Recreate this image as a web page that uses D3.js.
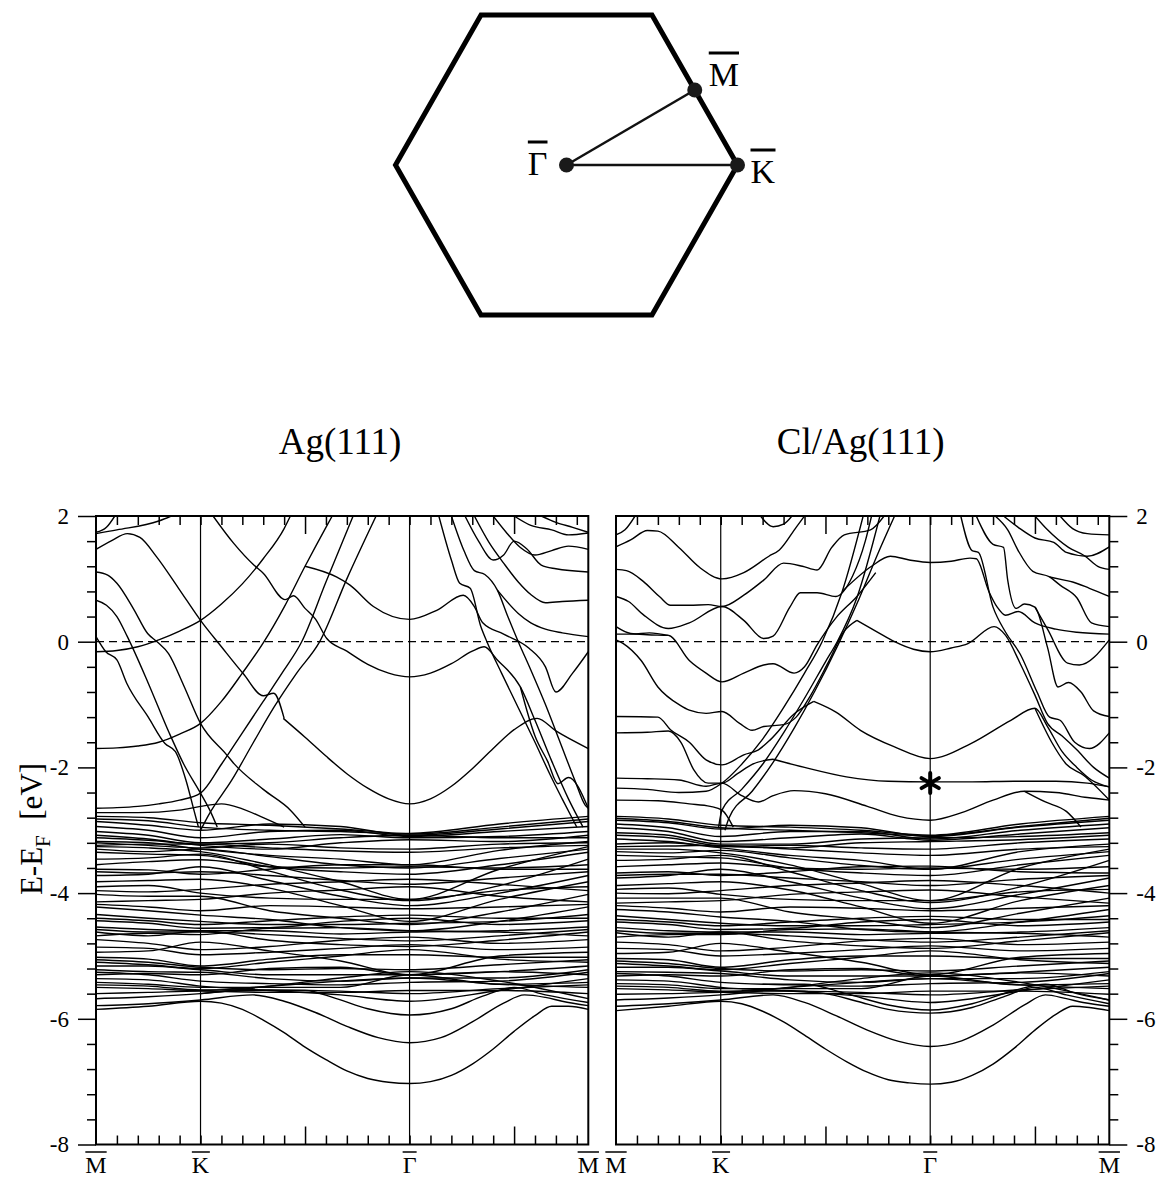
<!DOCTYPE html>
<html>
<head>
<meta charset="utf-8">
<script src="https://cdn.jsdelivr.net/npm/d3@7"></script>
<style>
  body { margin: 0; background: #fff; }
  svg { display: block; }
  text { font-family: "Liberation Serif", "Times New Roman", serif; fill: #000; }
</style>
</head>
<body>
<svg id="chart"></svg>
<script>
const width = 1162, height = 1179;

const kPoints = [0, 5, 15, 23.55];
const kNames = ["M", "K", "\u0393", "M"];
const kMinor = d3.range(1, 24);
const kMajor = [10, 20];
const eMajor = [2, 0, -2, -4, -6, -8];
const eMinor = [1.6, 1.2, 0.8, 0.4, -0.4, -0.8, -1.2, -1.6, -2.4, -2.8, -3.2, -3.6,
                -4.4, -4.8, -5.2, -5.6, -6.4, -6.8, -7.2, -7.6];
const titles = ["Ag(111)", "Cl/Ag(111)"];

// surface Brillouin zone (unit hexagon) and the high-symmetry points
const bzCorners = [[1, 0], [0.5, 0.866], [-0.5, 0.866], [-1, 0], [-0.5, -0.866], [0.5, -0.866]];
const bzPoints = [[0, 0], [0.75, 0.433], [1, 0]];
const bzNames = ["\u0393", "M", "K"];

// d-band manifold sampled on a common k grid
const denseK = [0, 2.5, 5, 8.3, 11.7, 15, 19.3, 23.55];

// ---------- Ag(111) ----------
const agUpper = [
  [[0,1.72],[1,1.78],[3,1.92],[3.6,2.0]],
  [[0,1.74],[0.5,1.82],[0.9,2.0]],
  [[0,1.47],[0.75,1.61],[1.5,1.72],[2.1,1.66],[2.9,1.35],[3.95,0.85],[5,0.34],[6,-0.08],[7.05,-0.51],[8,-0.86],[8.5,-0.82],[9,-1.22]],
  [[0,1.11],[0.56,1.06],[1,0.93],[1.8,0.52],[2.47,0.13],[2.92,0],[3.47,-0.19],[4.2,-0.7],[5,-1.3],[6.25,-1.8],[6.6,-1.94],[8,-2.35],[9.3,-2.68],[10,-2.95]],
  [[0,0.66],[0.5,0.58],[1,0.4],[1.5,0.08],[2.5,-0.66],[3.5,-1.45],[4.2,-1.95],[5,-2.41],[5.5,-2.72],[5.8,-2.95]],
  [[0,0.08],[0.47,-0.16],[1,-0.29],[1.47,-0.66],[2.5,-1.2],[3.3,-1.62],[3.8,-1.75],[4.3,-2.2],[4.7,-2.7],[4.9,-2.95]],
  [[0,-0.16],[1,-0.14],[2,-0.08],[3,0.03],[4,0.17],[5,0.34],[6,0.6],[7,0.92],[8,1.32],[9,1.8],[9.3,2.0]],
  [[0,-1.7],[1,-1.69],[2,-1.66],[3,-1.6],[4,-1.47],[5,-1.3],[6,-0.95],[7,-0.5],[8,-0.02],[9,0.55],[10,1.2],[11,1.82],[11.3,2.0]],
  [[0,-2.65],[1,-2.64],[2,-2.62],[3,-2.58],[4,-2.52],[5,-2.41],[6,-1.95],[7,-1.45],[8,-0.95],[9,-0.45],[9.84,0],[11,0.95],[12.3,2.0]],
  [[5,-3.0],[5.4,-2.75],[6.5,-2.2],[7.5,-1.62],[8.5,-1.05],[9.6,-0.5],[10.7,0],[12,1.0],[13.4,2.0]],
  [[5.6,2.0],[6.6,1.56],[7.55,1.22],[8,1.09],[9.05,0.67],[9.45,0.73],[10,0.53],[10.5,0.36],[11.04,0.05],[12,-0.15],[13,-0.36],[14,-0.5],[15,-0.56],[16,-0.5],[17,-0.35],[18,-0.15],[18.57,-0.08],[19.2,-0.29],[20.3,-0.72],[21,-1.25],[21.8,-1.9],[22.6,-2.5],[23.3,-2.95]],
  [[10,1.2],[11.5,1.03],[12.15,0.9],[13.27,0.56],[15,0.355],[16.3,0.5],[17.57,0.74],[18.1,0.56],[18.5,0.3],[19.5,0.12],[20.7,-0.1],[21.5,-0.4],[22,-0.8],[22.8,-0.5],[23.55,-0.16]],
  [[8.96,-1.22],[10,-1.52],[11,-1.82],[12,-2.1],[13,-2.33],[14,-2.5],[15,-2.58],[16,-2.5],[17,-2.3],[18,-2.02],[19,-1.7],[20,-1.4],[21.1,-1.22],[22,-1.42],[23.55,-1.7]],
  [[16.4,2.0],[17,1.3],[17.4,0.93],[17.9,0.85],[18.4,0.25],[18.7,0],[19.4,-0.5],[20.2,-1.05],[21,-1.6],[21.7,-2.1],[22.3,-2.5],[23,-2.95]],
  [[17,2.0],[17.6,1.45],[18.1,1.13],[18.6,1.07],[19.2,0.82],[19.7,0.4],[20.2,0],[20.8,-0.45],[21.5,-1.0],[22.2,-1.6],[22.9,-2.2],[23.4,-2.6],[23.55,-2.65]],
  [[17.65,2.0],[18.3,1.6],[19,1.3],[19.5,1.38],[20,1.6],[20.6,1.48],[21.3,1.22],[22,1.16],[23.55,1.11]],
  [[18.1,2.0],[18.8,1.58],[19.5,1.25],[20.2,0.95],[20.8,0.75],[21.5,0.62],[22.3,0.64],[23.55,0.66]],
  [[19,2.0],[19.6,1.75],[20.3,1.5],[21,1.38],[21.8,1.45],[22.6,1.52],[23.55,1.47]],
  [[20,2.0],[20.8,1.85],[21.8,1.78],[22.6,1.7],[23.55,1.73]],
  [[21.3,2.0],[22,1.9],[22.8,1.82],[23.55,1.74]],
  [[19.2,0.82],[20.2,0.45],[20.8,0.3],[21.5,0.2],[22.3,0.14],[23.55,0.08]],
  [[20.3,-0.72],[21,-1.5],[21.6,-1.9],[22.1,-2.26],[22.6,-2.16],[23.55,-2.65]],
  [[0,-2.72],[2,-2.72],[4,-2.68],[5,-2.62],[6,-2.58],[7,-2.66],[8,-2.8],[9,-2.95]]
];

const agDense = [
  [-2.78,-2.80,-2.88,-2.92,-2.98,-3.05,-2.90,-2.78],
  [-2.82,-2.85,-2.95,-3.00,-3.02,-3.06,-2.95,-2.82],
  [-2.86,-2.92,-3.00,-2.90,-2.94,-3.08,-2.98,-2.86],
  [-2.94,-3.00,-3.12,-3.02,-3.00,-3.10,-3.02,-2.94],
  [-3.02,-3.08,-3.20,-3.14,-3.07,-3.12,-3.10,-3.02],
  [-3.08,-3.14,-3.24,-3.30,-3.20,-3.15,-3.18,-3.08],
  [-3.12,-3.16,-3.22,-3.20,-3.12,-3.08,-3.12,-3.12],
  [-3.18,-3.20,-3.30,-3.40,-3.46,-3.55,-3.32,-3.18],
  [-3.20,-3.24,-3.28,-3.22,-3.28,-3.30,-3.22,-3.20],
  [-3.24,-3.22,-3.22,-3.28,-3.33,-3.35,-3.28,-3.24],
  [-3.26,-3.28,-3.34,-3.55,-3.82,-4.10,-3.62,-3.26],
  [-3.30,-3.34,-3.30,-3.42,-3.55,-3.60,-3.45,-3.30],
  [-3.35,-3.38,-3.40,-3.58,-3.66,-3.70,-3.55,-3.35],
  [-3.46,-3.44,-3.38,-3.65,-3.95,-4.12,-3.88,-3.46],
  [-3.55,-3.50,-3.47,-3.58,-3.60,-3.58,-3.60,-3.55],
  [-3.62,-3.63,-3.70,-3.62,-3.55,-3.55,-3.62,-3.62],
  [-3.66,-3.68,-3.66,-3.72,-3.80,-3.86,-3.76,-3.66],
  [-3.72,-3.70,-3.58,-3.80,-4.05,-4.20,-4.00,-3.72],
  [-3.82,-3.80,-3.78,-3.92,-4.20,-4.45,-4.10,-3.82],
  [-3.90,-3.88,-4.00,-4.08,-4.10,-4.10,-3.96,-3.90],
  [-3.96,-3.98,-3.94,-3.86,-3.82,-3.78,-3.86,-3.96],
  [-4.02,-4.05,-4.05,-4.28,-4.40,-4.50,-4.30,-4.02],
  [-4.14,-4.12,-4.10,-4.00,-3.95,-3.90,-4.05,-4.14],
  [-4.18,-4.22,-4.28,-4.20,-4.22,-4.25,-4.22,-4.18],
  [-4.22,-4.28,-4.35,-4.42,-4.55,-4.60,-4.45,-4.22],
  [-4.34,-4.40,-4.45,-4.50,-4.50,-4.48,-4.45,-4.34],
  [-4.40,-4.44,-4.50,-4.44,-4.38,-4.35,-4.40,-4.40],
  [-4.44,-4.48,-4.56,-4.55,-4.45,-4.40,-4.50,-4.44],
  [-4.54,-4.58,-4.60,-4.60,-4.65,-4.62,-4.60,-4.54],
  [-4.58,-4.62,-4.62,-4.66,-4.72,-4.76,-4.68,-4.58],
  [-4.62,-4.68,-4.60,-4.75,-4.82,-4.85,-4.75,-4.62],
  [-4.68,-4.64,-4.66,-4.56,-4.55,-4.60,-4.62,-4.68],
  [-4.74,-4.80,-4.90,-4.85,-4.75,-4.70,-4.80,-4.74],
  [-4.86,-4.88,-4.98,-4.94,-4.88,-4.82,-4.90,-4.86],
  [-4.94,-4.92,-4.78,-4.92,-5.08,-5.30,-5.00,-4.94],
  [-5.02,-5.05,-5.16,-5.05,-4.98,-4.98,-5.02,-5.02],
  [-5.06,-5.10,-5.18,-5.22,-5.20,-5.22,-5.14,-5.06],
  [-5.10,-5.14,-5.20,-5.10,-5.00,-4.90,-5.05,-5.10],
  [-5.16,-5.16,-5.22,-5.30,-5.30,-5.30,-5.25,-5.16],
  [-5.22,-5.25,-5.26,-5.36,-5.40,-5.35,-5.35,-5.22],
  [-5.26,-5.30,-5.40,-5.44,-5.46,-5.42,-5.40,-5.26],
  [-5.30,-5.28,-5.30,-5.20,-5.18,-5.30,-5.25,-5.30],
  [-5.36,-5.38,-5.48,-5.55,-5.62,-5.72,-5.55,-5.36],
  [-5.42,-5.45,-5.50,-5.50,-5.50,-5.30,-5.45,-5.42],
  [-5.46,-5.48,-5.54,-5.54,-5.56,-5.60,-5.52,-5.46],
  [-5.50,-5.52,-5.55,-5.48,-5.40,-5.35,-5.45,-5.50],
  [-5.60,-5.58,-5.56,-5.58,-5.58,-5.55,-5.55,-5.60],
  [-5.68,-5.65,-5.60,-5.48,-5.35,-5.25,-5.40,-5.68]
];

const agLower = [
  [[0,-5.85],[2.5,-5.8],[5,-5.72],[6,-5.75],[7,-5.85],[8,-6.02],[9,-6.22],[10,-6.45],[11,-6.65],[12,-6.83],[13,-6.95],[14,-7.01],[15,-7.03],[16,-7.0],[17,-6.9],[18,-6.72],[19,-6.48],[20,-6.2],[21,-5.95],[21.8,-5.8],[22.6,-5.8],[23.55,-5.85]],
  [[0,-5.79],[2.5,-5.76],[5,-5.7],[7.5,-5.62],[9,-5.72],[10.5,-5.9],[12,-6.12],[13.5,-6.3],[15,-6.38],[16.5,-6.3],[18,-6.05],[19.5,-5.75],[20.5,-5.62],[21.5,-5.66],[22.3,-5.72],[23.55,-5.79]],
  [[5,-5.6],[7,-5.55],[10,-5.55],[11.5,-5.68],[13,-5.84],[15,-5.94],[17,-5.84],[18.5,-5.64],[20,-5.5],[21.5,-5.62],[23.55,-5.74]]
];

// ---------- Cl/Ag(111) ----------
const clUpper = [
  [[0,1.7],[0.43,1.78],[0.91,2.0]],
  [[0,1.51],[0.7,1.62],[1.5,1.77],[2,1.76],[3,1.5],[4,1.18],[5.06,1.0],[6.1,1.1],[7.3,1.36],[7.8,1.46],[8.6,1.82],[9,2.0]],
  [[6.9,2.0],[7.5,1.83],[8,1.87],[8.4,2.0]],
  [[0,1.15],[0.5,1.13],[1.3,0.96],[2.1,0.71],[2.6,0.58],[3.5,0.58],[4.4,0.59],[5.06,0.56],[6.1,0.74],[7.05,0.98],[8,1.25],[8.9,1.2],[9.6,1.14],[10.3,1.5],[10.9,1.7],[12.15,1.78],[12.8,2.0]],
  [[0,0.72],[0.6,0.64],[1.3,0.43],[2.5,0.21],[3.5,0.3],[5.06,0.56],[6.1,0.34],[7.05,0.05],[7.5,0.09],[8.3,0.55],[8.8,0.78],[9.6,0.78],[10.5,0.72],[11.3,1.05],[11.9,1.6],[12.2,2.0]],
  [[0,0.24],[0.7,0.13],[1.5,0.11],[2.5,0.1],[3.5,-0.3],[4.3,-0.5],[5.06,-0.64],[6.1,-0.5],[7.05,-0.37],[7.5,-0.35],[8.5,-0.5],[9,-0.4],[9.6,-0.05],[10.5,0.38],[11.5,0.72],[12.4,1.1]],
  [[0,0.12],[0.8,0.12],[1.6,0.14],[2.5,0.1]],
  [[0,0.03],[0.35,-0.03],[1.2,-0.3],[2,-0.72],[3.05,-1.01],[3.5,-1.09],[4.3,-1.14],[5.06,-1.11],[5.9,-1.3],[6.5,-1.41],[7.05,-1.35],[8,-1.32],[8.6,-1.2],[9.3,-0.85],[10.1,-0.35],[10.9,0.17],[11.5,0.34]],
  [[0,-1.19],[2,-1.2],[2.6,-1.4],[3.5,-1.6],[4.3,-1.88],[5.06,-1.96],[6.1,-1.8],[6.8,-1.72],[7.4,-1.55],[8.5,-1.15],[9.44,-0.95]],
  [[0,-1.45],[1.5,-1.44],[2.5,-1.42],[3.1,-1.6],[3.7,-2.03],[4.4,-2.25],[5.06,-2.25],[5.8,-2.1],[6.5,-1.95],[7.5,-1.87]],
  [[7.5,-1.87],[9,-2.0],[11,-2.15],[13,-2.22],[15,-2.23],[17,-2.23],[19,-2.22],[21,-2.22],[22.5,-2.25],[23.55,-2.31]],
  [[0,-2.17],[1.5,-2.18],[3,-2.2],[4.3,-2.3],[5.06,-2.25],[6,-2.45],[6.8,-2.55],[7.5,-2.45],[8.5,-2.37],[10,-2.42],[12,-2.62],[13.5,-2.78],[15,-2.84],[16.5,-2.72],[18,-2.52],[19.5,-2.38],[21,-2.4],[22.5,-2.48],[23.55,-2.52]],
  [[0,-2.52],[2,-2.53],[3.5,-2.58],[4.5,-2.62],[5.06,-2.68],[5.6,-2.95]],
  [[0,-2.33],[1.5,-2.35],[3,-2.4],[4.3,-2.38],[5.06,-2.25],[6,-1.95],[7,-1.55],[8,-1.05],[9,-0.5],[9.84,0],[10.8,0.8],[11.8,2.0]],
  [[4.9,-2.95],[5.06,-2.68],[6,-2.35],[7,-1.95],[8,-1.45],[9,-0.9],[10,-0.32],[10.56,0],[11.5,0.7],[12.6,2.0]],
  [[5.2,-3.0],[5.4,-2.8],[6.5,-2.38],[7.5,-1.92],[8.5,-1.38],[9.5,-0.78],[10.6,-0.05],[11.6,0.68],[12.5,1.4],[13.3,2.0]],
  [[10.8,0.8],[12.2,1.2],[13.1,1.36],[14,1.3],[15,1.26],[16,1.28],[16.9,1.33],[17.2,1.32],[17.8,0.8],[18.2,0.55],[18.6,0.42],[19.2,0.48],[20,0.3],[21,0.2],[22,0.15],[23.55,0.12]],
  [[11.5,0.34],[12.5,0.15],[13.3,0],[14.2,-0.12],[15,-0.16],[16,-0.1],[16.8,-0.03],[18.05,0.24],[18.6,0.1],[19.3,-0.35],[20,-0.85],[20.6,-1.3],[21.3,-1.5],[22,-1.72],[22.8,-2.0],[23.55,-2.17]],
  [[9.44,-0.95],[10.5,-1.12],[11.67,-1.41],[13.27,-1.67],[15,-1.86],[16.94,-1.62],[18.85,-1.25],[20,-1.06],[20.6,-1.35],[21.3,-1.75],[22,-2.0],[22.7,-2.2],[23.55,-2.31]],
  [[16.46,2.0],[17,1.45],[17.3,1.42],[18,0.55],[18.6,0.15],[19.3,-0.2],[20.1,-0.8],[20.7,-1.2],[21.2,-1.25],[21.9,-1.6],[22.6,-1.7],[23.55,-1.45]],
  [[17.2,2.0],[18,1.55],[18.5,1.5],[18.7,0.98],[19.1,0.53],[19.5,0.6],[20,0.55],[20.6,-0.09],[21.1,-0.72],[21.6,-0.65],[22.2,-0.8],[22.8,-1.1],[23.55,-1.19]],
  [[18.1,2.0],[18.7,1.78],[19.2,1.45],[19.9,1.12],[20.7,1.03],[21.2,0.9],[22,0.7],[22.7,0.3],[23.55,0.24]],
  [[18.5,2.0],[19.2,1.82],[20,1.65],[20.9,1.58],[21.5,1.42],[22.5,1.36],[23.55,1.51]],
  [[20,2.0],[20.6,1.78],[21.6,1.5],[22.4,1.36],[23,1.2],[23.55,1.15]],
  [[21.2,2.0],[21.8,1.8],[22.5,1.72],[23.55,1.7]],
  [[20,0.55],[20.6,0.2],[21.56,-0.34],[22.12,-0.37],[23.55,0.03]],
  [[20.7,1.03],[21.4,0.98],[21.8,0.95],[22.6,0.85],[23.55,0.72]],
  [[20,-1.06],[20.8,-1.6],[21.5,-1.95],[22.3,-2.12],[23.55,-2.52]],
  [[19.5,-2.38],[20.5,-2.55],[21.5,-2.7],[22.2,-2.95]]
];

const clDense = [
  [-2.78,-2.82,-2.92,-2.95,-3.00,-3.08,-2.90,-2.78],
  [-2.81,-2.86,-2.96,-3.00,-3.04,-3.09,-2.94,-2.81],
  [-2.84,-2.88,-2.98,-2.92,-2.96,-3.10,-2.95,-2.84],
  [-2.90,-2.96,-3.10,-3.02,-3.02,-3.14,-3.00,-2.90],
  [-2.96,-3.02,-3.18,-3.12,-3.06,-3.16,-3.06,-2.96],
  [-3.04,-3.08,-3.22,-3.22,-3.14,-3.12,-3.10,-3.04],
  [-3.08,-3.12,-3.25,-3.28,-3.20,-3.18,-3.15,-3.08],
  [-3.14,-3.18,-3.26,-3.24,-3.28,-3.30,-3.20,-3.14],
  [-3.22,-3.20,-3.28,-3.40,-3.48,-3.62,-3.34,-3.22],
  [-3.26,-3.25,-3.24,-3.30,-3.36,-3.40,-3.30,-3.26],
  [-3.30,-3.30,-3.36,-3.55,-3.85,-4.12,-3.60,-3.30],
  [-3.34,-3.36,-3.32,-3.44,-3.56,-3.62,-3.46,-3.34],
  [-3.40,-3.42,-3.44,-3.60,-3.68,-3.72,-3.55,-3.40],
  [-3.48,-3.46,-3.40,-3.66,-3.96,-4.15,-3.90,-3.48],
  [-3.58,-3.55,-3.52,-3.60,-3.62,-3.60,-3.62,-3.58],
  [-3.68,-3.66,-3.72,-3.66,-3.58,-3.57,-3.66,-3.68],
  [-3.72,-3.70,-3.70,-3.76,-3.82,-3.88,-3.78,-3.72],
  [-3.76,-3.72,-3.62,-3.82,-4.08,-4.25,-4.02,-3.76],
  [-3.88,-3.85,-3.82,-3.95,-4.22,-4.48,-4.12,-3.88],
  [-3.94,-3.92,-4.02,-4.10,-4.12,-4.12,-3.98,-3.94],
  [-4.00,-4.01,-3.96,-3.88,-3.84,-3.80,-3.88,-4.00],
  [-4.08,-4.08,-4.08,-4.30,-4.42,-4.55,-4.32,-4.08],
  [-4.16,-4.14,-4.12,-4.02,-3.98,-3.95,-4.06,-4.16],
  [-4.20,-4.24,-4.30,-4.22,-4.24,-4.28,-4.24,-4.20],
  [-4.26,-4.30,-4.38,-4.45,-4.58,-4.62,-4.46,-4.26],
  [-4.36,-4.42,-4.48,-4.52,-4.52,-4.50,-4.46,-4.36],
  [-4.42,-4.46,-4.52,-4.46,-4.40,-4.37,-4.42,-4.42],
  [-4.46,-4.50,-4.58,-4.56,-4.46,-4.42,-4.52,-4.46],
  [-4.55,-4.60,-4.62,-4.62,-4.66,-4.64,-4.62,-4.55],
  [-4.60,-4.64,-4.64,-4.68,-4.74,-4.78,-4.70,-4.60],
  [-4.63,-4.70,-4.62,-4.76,-4.84,-4.88,-4.76,-4.63],
  [-4.70,-4.66,-4.66,-4.58,-4.57,-4.62,-4.64,-4.70],
  [-4.78,-4.82,-4.92,-4.86,-4.76,-4.72,-4.82,-4.78],
  [-4.88,-4.90,-5.00,-4.96,-4.90,-4.84,-4.92,-4.88],
  [-4.96,-4.94,-4.80,-4.94,-5.10,-5.30,-5.02,-4.96],
  [-5.04,-5.06,-5.18,-5.06,-5.00,-5.00,-5.04,-5.04],
  [-5.08,-5.12,-5.20,-5.24,-5.22,-5.24,-5.16,-5.08],
  [-5.12,-5.16,-5.22,-5.12,-5.02,-4.92,-5.06,-5.12],
  [-5.18,-5.18,-5.24,-5.32,-5.32,-5.32,-5.26,-5.18],
  [-5.25,-5.26,-5.28,-5.38,-5.42,-5.36,-5.36,-5.25],
  [-5.28,-5.32,-5.42,-5.46,-5.48,-5.44,-5.42,-5.28],
  [-5.32,-5.30,-5.32,-5.22,-5.20,-5.32,-5.27,-5.32],
  [-5.38,-5.40,-5.50,-5.56,-5.64,-5.74,-5.56,-5.38],
  [-5.44,-5.46,-5.52,-5.52,-5.52,-5.32,-5.46,-5.44],
  [-5.48,-5.50,-5.56,-5.56,-5.58,-5.62,-5.54,-5.48],
  [-5.52,-5.54,-5.57,-5.50,-5.42,-5.36,-5.46,-5.52],
  [-5.61,-5.60,-5.58,-5.60,-5.60,-5.56,-5.56,-5.61],
  [-5.70,-5.67,-5.62,-5.50,-5.36,-5.27,-5.42,-5.70]
];

const clLower = [
  [[0,-5.87],[2.5,-5.8],[5,-5.72],[6,-5.76],[7,-5.88],[8,-6.05],[9,-6.26],[10,-6.48],[11,-6.68],[12,-6.85],[13,-6.97],[14,-7.02],[15,-7.04],[16,-7.01],[17,-6.9],[18,-6.72],[19,-6.47],[20,-6.18],[21,-5.93],[21.8,-5.8],[22.6,-5.82],[23.55,-5.87]],
  [[0,-5.8],[2.5,-5.76],[5,-5.7],[7.5,-5.62],[9,-5.74],[10.5,-5.95],[12,-6.18],[13.5,-6.36],[15,-6.44],[16.5,-6.35],[18,-6.1],[19.5,-5.78],[20.5,-5.62],[21.5,-5.68],[22.3,-5.74],[23.55,-5.8]],
  [[6,-5.55],[8,-5.55],[10,-5.6],[11.5,-5.72],[13,-5.85],[15,-5.91],[17,-5.82],[18.5,-5.65],[20,-5.5],[21.5,-5.62],[23.55,-5.76]],
  [[7,-5.45],[9,-5.45],[11,-5.6],[13,-5.78],[15,-5.86],[17,-5.76],[19,-5.55],[20.5,-5.45],[22,-5.6],[23.55,-5.7]]
];

// Cl-derived state marked with an asterisk
const clMarker = [15, -2.25];

// ---------- drawing ----------
const svg = d3.select("#chart").attr("width", width).attr("height", height);

// Brillouin zone sketch
const hx = d3.scaleLinear().domain([-1, 1]).range([395.5, 737.5]);
const hy = d3.scaleLinear().domain([-0.866, 0.866]).range([315, 15]);
const bz = svg.append("g");

bz.append("polygon")
  .attr("points", bzCorners.map(c => `${hx(c[0])},${hy(c[1])}`).join(" "))
  .attr("fill", "none")
  .attr("stroke", "#000")
  .attr("stroke-width", 5)
  .attr("stroke-linejoin", "miter");

bz.selectAll("line.path")
  .data(bzPoints.slice(1))
  .join("line")
  .attr("x1", hx(bzPoints[0][0])).attr("y1", hy(bzPoints[0][1]))
  .attr("x2", d => hx(d[0])).attr("y2", d => hy(d[1]))
  .attr("stroke", "#111")
  .attr("stroke-width", 2.5);

bz.selectAll("circle")
  .data(bzPoints)
  .join("circle")
  .attr("cx", d => hx(d[0]))
  .attr("cy", d => hy(d[1]))
  .attr("r", 7.5)
  .attr("fill", "#1a1a1a");

function overlined(g, str, x, yBase, size, anchor, gap, bw) {
  const t = g.append("text")
    .attr("x", x).attr("y", yBase)
    .attr("font-size", size)
    .attr("text-anchor", anchor)
    .text(str);
  const b = t.node().getBBox();
  g.append("line")
    .attr("x1", b.x).attr("x2", b.x + b.width)
    .attr("y1", yBase - gap).attr("y2", yBase - gap)
    .attr("stroke", "#000")
    .attr("stroke-width", bw);
}

// label offsets: Gamma to the left, M above-right, K to the right
const bzLabelPos = [[-19, 10, "end"], [14, -4, "start"], [13, 18, "start"]];
bzPoints.forEach((p, i) => {
  const o = bzLabelPos[i];
  overlined(bz, bzNames[i], hx(p[0]) + o[0], hy(p[1]) + o[1], 34, o[2], 33, 3);
});

// energy scale shared by both panels
const y = d3.scaleLinear().domain([-8, 2]).range([1144.5, 516]);

function drawPanel(idx, range, upper, dense, lower, axisSide, marker) {
  const x = d3.scaleLinear().domain([kPoints[0], kPoints[3]]).range(range);
  const g = svg.append("g");
  const clipId = "clip" + idx;

  g.append("clipPath").attr("id", clipId)
    .append("rect")
    .attr("x", range[0]).attr("y", y(2))
    .attr("width", range[1] - range[0]).attr("height", y(-8) - y(2));

  const line = d3.line()
    .x(d => x(d[0]))
    .y(d => y(d[1]))
    .curve(d3.curveMonotoneX);

  const bands = g.append("g")
    .attr("clip-path", `url(#${clipId})`)
    .attr("fill", "none")
    .attr("stroke", "#000")
    .attr("stroke-width", 1.4);

  bands.selectAll("path.dense")
    .data(dense)
    .join("path")
    .attr("class", "dense")
    .attr("d", row => line(row.map((e, i) => [denseK[i], e])));

  bands.selectAll("path.upper")
    .data(upper.concat(lower))
    .join("path")
    .attr("class", "upper")
    .attr("d", line);

  // symmetry-point verticals
  g.selectAll("line.kline")
    .data(kPoints.slice(1, 3))
    .join("line")
    .attr("x1", d => x(d)).attr("x2", d => x(d))
    .attr("y1", y(2)).attr("y2", y(-8))
    .attr("stroke", "#000")
    .attr("stroke-width", 1.2);

  // Fermi level
  g.append("line")
    .attr("x1", range[0]).attr("x2", range[1])
    .attr("y1", y(0)).attr("y2", y(0))
    .attr("stroke", "#000")
    .attr("stroke-width", 1.3)
    .attr("stroke-dasharray", "8,5");

  // k ticks, pointing inward on top and bottom
  const styleAxis = a => {
    a.select(".domain").remove();
    a.selectAll(".tick line").attr("stroke-width", 1.5);
  };
  const minorK = kMinor.filter(v => !kMajor.includes(v));
  g.append("g").attr("transform", `translate(0,${y(-8)})`)
    .call(d3.axisBottom(x).tickValues(minorK).tickSize(-9).tickFormat(""))
    .call(styleAxis);
  g.append("g").attr("transform", `translate(0,${y(-8)})`)
    .call(d3.axisBottom(x).tickValues(kMajor).tickSize(-18).tickFormat(""))
    .call(styleAxis);
  g.append("g").attr("transform", `translate(0,${y(2)})`)
    .call(d3.axisTop(x).tickValues(minorK).tickSize(-9).tickFormat(""))
    .call(styleAxis);
  g.append("g").attr("transform", `translate(0,${y(2)})`)
    .call(d3.axisTop(x).tickValues(kMajor).tickSize(-18).tickFormat(""))
    .call(styleAxis);

  // energy axis on the outer side
  const xa = axisSide === "left" ? range[0] : range[1];
  const mk = axisSide === "left" ? d3.axisLeft : d3.axisRight;
  g.append("g").attr("transform", `translate(${xa},0)`)
    .call(mk(y).tickValues(eMinor).tickSize(9).tickFormat(""))
    .call(styleAxis);
  const ea = g.append("g").attr("transform", `translate(${xa},0)`)
    .call(mk(y).tickValues(eMajor).tickSize(18).tickPadding(9).tickFormat(d => String(d)))
    .call(styleAxis);
  ea.selectAll("text")
    .attr("font-size", 23)
    .attr("font-family", "'Liberation Serif', 'Times New Roman', serif")
    .attr("fill", "#000");

  // frame
  g.append("rect")
    .attr("x", range[0]).attr("y", y(2))
    .attr("width", range[1] - range[0]).attr("height", y(-8) - y(2))
    .attr("fill", "none")
    .attr("stroke", "#000")
    .attr("stroke-width", 2);

  // symmetry-point labels
  kPoints.forEach((k, i) => overlined(g, kNames[i], x(k), 1173, 24, "middle", 21, 1.5));

  // title
  g.append("text")
    .attr("x", (range[0] + range[1]) / 2 - 2)
    .attr("y", 454)
    .attr("font-size", 37)
    .attr("text-anchor", "middle")
    .text(titles[idx]);

  if (marker) {
    const cx = x(marker[0]), cy = y(marker[1]), r = 10;
    const arms = [90, 30, 150].map(a => {
      const t = a * Math.PI / 180;
      return `M${cx - r * Math.cos(t)},${cy - r * Math.sin(t)}L${cx + r * Math.cos(t)},${cy + r * Math.sin(t)}`;
    }).join("");
    g.append("path")
      .attr("d", arms)
      .attr("stroke", "#000")
      .attr("stroke-width", 4)
      .attr("stroke-linecap", "round");
  }
}

drawPanel(0, [96, 588.3], agUpper, agDense, agLower, "left", null);
drawPanel(1, [616, 1109.3], clUpper, clDense, clLower, "right", clMarker);

// energy axis title
const yl = svg.append("text")
  .attr("transform", "translate(42,829) rotate(-90)")
  .attr("font-size", 31)
  .attr("text-anchor", "middle");
yl.append("tspan").text("E-E");
yl.append("tspan").attr("font-size", 21).attr("dy", 8).text("F");
yl.append("tspan").attr("dy", -8).text("\u00a0\u00a0[eV]");
</script>
</body>
</html>
